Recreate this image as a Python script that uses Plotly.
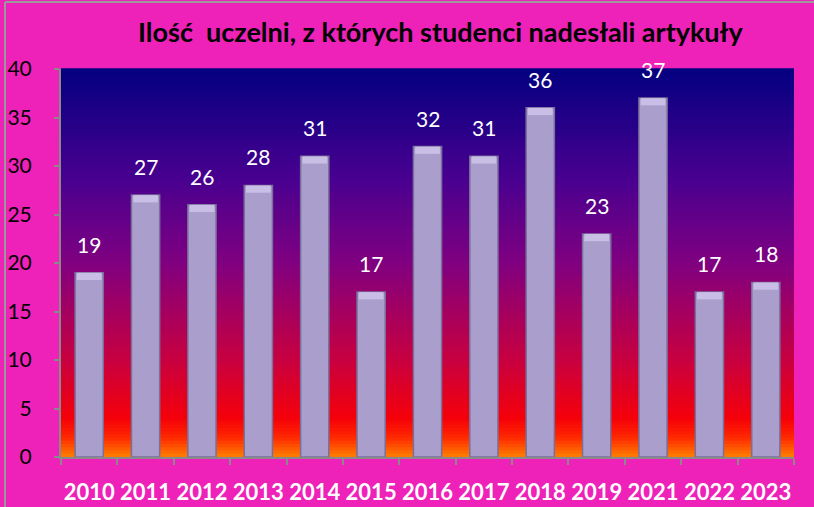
import plotly.graph_objects as go

years = ["2010", "2011", "2012", "2013", "2014", "2015", "2016",
         "2017", "2018", "2019", "2021", "2022", "2023"]
counts = [19, 27, 26, 28, 31, 17, 32, 31, 36, 23, 37, 17, 18]
y_ticks = [0, 5, 10, 15, 20, 25, 30, 35, 40]
title_text = "Ilość  uczelni, z których studenci nadesłali artykuły"

PINK = "#EE22B8"
BEVEL = 0.75  # height (in value units) of the lighter top bevel of each bar

# gradient stops for the plot background (fraction from bottom, color)
stops = [(0.0, (255, 128, 0)), (0.05, (255, 40, 0)), (0.10, (245, 0, 10)),
         (0.25, (200, 0, 64)), (0.5, (128, 0, 128)), (0.72, (72, 0, 144)),
         (1.0, (4, 0, 128))]


def interp(f):
    for (f0, c0), (f1, c1) in zip(stops[:-1], stops[1:]):
        if f0 <= f <= f1:
            t = (f - f0) / (f1 - f0) if f1 > f0 else 0
            return "rgb(%d,%d,%d)" % tuple(round(a + (b - a) * t) for a, b in zip(c0, c1))
    return "rgb(%d,%d,%d)" % stops[-1][1]


shapes = []
N = 120
for i in range(N):
    f0, f1 = i / N, (i + 1) / N
    shapes.append(dict(type="rect", xref="paper", yref="paper", x0=0, x1=1,
                       y0=f0, y1=f1 + 0.002, line=dict(width=0),
                       fillcolor=interp((f0 + f1) / 2), layer="below"))

# page border (left and top)
shapes.append(dict(type="line", xref="paper", yref="paper", x0=-0.0764, x1=-0.0764,
                   y0=-0.2, y1=1.173, line=dict(color="#9a9a9a", width=2)))
shapes.append(dict(type="line", xref="paper", yref="paper", x0=-0.0764, x1=1.04,
                   y0=1.173, y1=1.173, line=dict(color="#9a9a9a", width=2)))

fig = go.Figure()
fig.add_trace(go.Bar(
    x=years, y=counts, width=0.5,
    marker=dict(color="#aa9ecc", line=dict(color="#7a6e9c", width=1.5)),
    hoverinfo="x+y",
))
# lighter bevel at the top of each bar
fig.add_trace(go.Bar(
    x=years, y=[BEVEL] * len(counts), base=[v - BEVEL for v in counts], width=0.44,
    marker=dict(color="#c9bee5", line=dict(width=0)),
    hoverinfo="skip",
))

annotations = []
for i, v in enumerate(counts):
    annotations.append(dict(x=i, y=v, xref="x", yref="y", text=str(v),
                            showarrow=False, yanchor="bottom", yshift=14,
                            font=dict(family="Lato", size=21, color="white")))
annotations.append(dict(x=(440 - 61) / 733, y=1.0, xref="paper", yref="paper",
                        xanchor="center", yanchor="bottom", yshift=19,
                        text="<b>%s</b>" % title_text, showarrow=False,
                        font=dict(family="Lato", size=27, color="black")))

fig.update_layout(
    width=814, height=507,
    paper_bgcolor=PINK, plot_bgcolor=PINK,
    margin=dict(l=61, r=20, t=69, b=50, autoexpand=False),
    shapes=shapes, annotations=annotations,
    showlegend=False, barmode="overlay",
    xaxis=dict(type="category", range=[-0.5, len(years) - 0.5],
               tickson="boundaries", ticks="outside",
               ticklen=6, tickcolor="#8a8a8a", tickwidth=2,
               showline=True, linecolor="#8a8a8a", linewidth=2,
               showgrid=False, ticklabelstandoff=15, tickangle=0,
               automargin=False,
               tickfont=dict(family="Lato", size=22, color="white", weight="bold")),
    yaxis=dict(range=[0, 40], tickvals=y_ticks, ticks="outside", ticklen=5,
               tickcolor="#8a8a8a", tickwidth=2, showline=True,
               linecolor="#8a8a8a", linewidth=2, showgrid=False, zeroline=False,
               ticklabelstandoff=18, automargin=False,
               tickfont=dict(family="Lato", size=21, color="black")),
)

fig.write_html("out.html", config={"displayModeBar": False},
               post_script="document.body.style.margin='0';"
                           "document.body.style.background='%s';" % PINK)
